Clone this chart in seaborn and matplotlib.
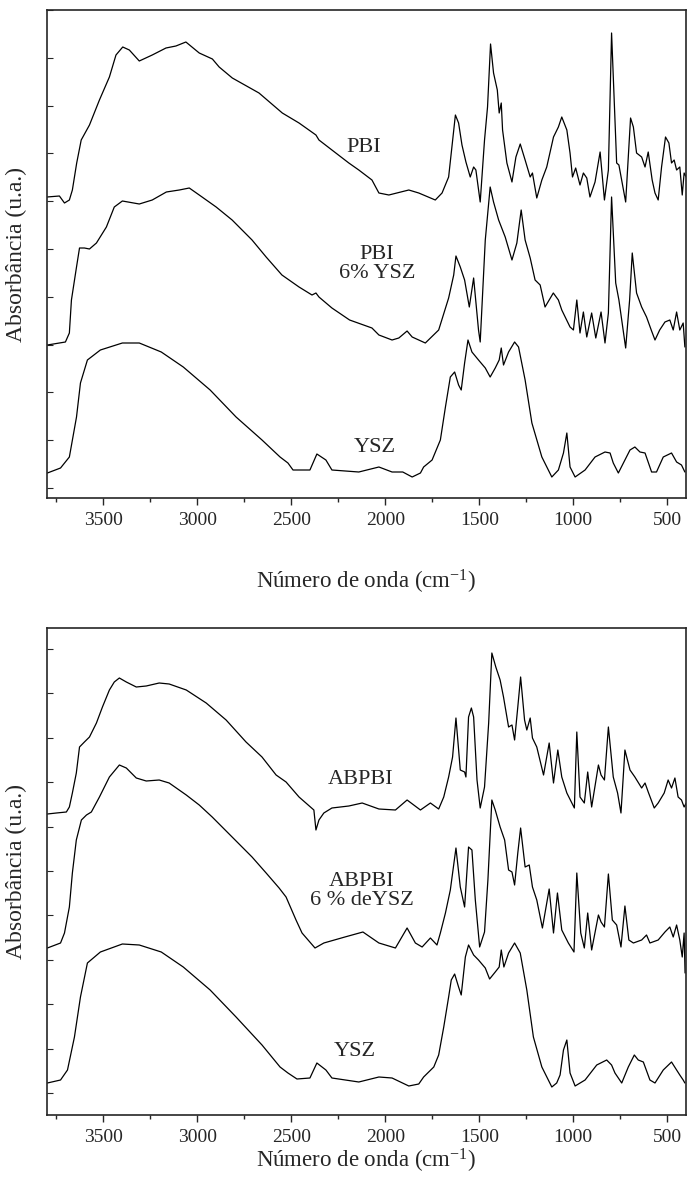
import numpy as np
import pandas as pd
import matplotlib
matplotlib.use("Agg")
import matplotlib.pyplot as plt
from matplotlib.ticker import MultipleLocator, FixedLocator
import seaborn as sns

# ---------------- data (wavenumber in cm-1, absorbance in arbitrary units) ----------------
pbi_wn = [3800,3734,3707,3681,3665,3642,3618,3574,3521,3468,3433,3397,3362,3309,3240,3167,3114,3061,2990,2920,
          2884,2814,2672,2548,2459,2369,2353,2284,2194,2141,2071,2034,1981,1875,1822,1734,1698,1663,1627,1610,
          1592,1571,1548,1530,1518,1495,1472,1456,1440,1424,1404,1394,1383,1376,1353,1326,1305,1282,1256,1229,
          1217,1194,1167,1141,1105,1079,1061,1034,1017,1004,987,964,946,928,911,884,857,834,813,796,
          769,757,721,695,680,663,636,618,601,580,565,548,530,509,491,477,463,450,433,420,410,399]
pbi_abs = [291,292,285,288,298,325,348,363,388,411,433,441,438,427,433,440,442,446,435,429,
           421,410,395,375,365,353,348,338,325,318,308,295,293,298,295,288,295,311,373,365,
           343,326,311,321,318,286,348,381,444,415,398,375,385,358,325,306,331,344,328,311,
           315,290,308,321,351,361,371,358,335,311,320,303,315,310,291,306,336,288,318,455,
           325,323,286,370,361,335,331,321,336,308,295,288,321,351,345,325,328,318,321,293,315,311]

pbi6_wn = [3798,3702,3681,3670,3643,3627,3601,3574,3537,3484,3442,3399,3309,3240,3165,3096,3043,2990,2900,2815,
           2709,2634,2550,2459,2390,2369,2353,2284,2190,2071,2034,1964,1928,1884,1857,1787,1716,1663,1636,1624,
           1601,1578,1553,1530,1504,1495,1468,1442,1424,1397,1362,1326,1300,1277,1256,1229,1203,1176,1150,1106,
           1079,1061,1017,999,981,964,946,928,902,880,852,831,813,796,774,757,721,700,686,663,
           636,610,585,565,540,512,486,468,450,433,415,406]
pbi6_abs = [143,146,155,188,221,240,240,239,245,261,281,287,284,288,296,298,300,293,281,268,
            248,231,213,201,193,195,191,180,168,160,153,148,150,157,151,145,158,190,213,232,
            221,208,181,210,158,146,248,301,286,268,251,228,245,278,248,230,208,203,181,195,
            188,178,161,158,188,155,176,151,175,150,176,145,175,291,205,188,140,188,235,195,
            181,171,158,148,158,166,168,158,176,158,165,141]

ysz1_wn = [3798,3728,3681,3643,3622,3585,3516,3399,3309,3192,3075,2932,2794,2656,2560,2518,2491,2401,2364,2316,
           2284,2141,2034,1964,1907,1857,1813,1796,1751,1707,1680,1654,1631,1610,1596,1578,1560,1539,1504,1468,
           1442,1415,1394,1383,1371,1344,1312,1291,1256,1220,1167,1114,1079,1052,1034,1017,990,937,884,831,
           804,787,760,725,698,672,645,618,583,557,521,477,450,424,406]
ysz1_abs = [15,20,31,71,105,128,138,145,145,136,121,98,71,48,31,25,18,18,34,28,
            18,16,21,16,16,11,15,21,28,48,81,111,116,103,98,125,148,136,128,120,
            111,120,128,140,123,136,146,141,108,65,31,11,18,35,55,21,11,18,31,36,
            35,25,15,28,38,41,36,35,16,16,31,35,26,23,16]

abpbi_wn = [3798,3750,3697,3681,3665,3644,3627,3601,3574,3537,3505,3468,3442,3415,3378,3325,3272,3203,3150,3059,
            2953,2847,2741,2656,2581,2528,2459,2380,2369,2353,2327,2284,2194,2123,2034,1946,1884,1813,1760,1716,
            1689,1663,1642,1624,1601,1578,1571,1557,1542,1530,1512,1495,1472,1450,1433,1412,1389,1371,1344,1326,
            1312,1295,1280,1259,1247,1229,1217,1194,1158,1128,1105,1082,1061,1034,994,981,964,941,923,902,
            866,852,834,813,787,764,746,725,698,672,636,618,601,569,548,516,495,477,459,442,424,410,399]
abpbi_abs = [279,280,281,286,300,320,346,351,356,370,386,403,411,415,411,406,407,410,409,403,
             390,373,351,336,318,311,296,283,263,273,280,285,287,290,284,283,293,283,290,284,
             296,316,336,375,323,321,316,376,385,376,313,285,306,370,440,426,413,396,366,368,
             353,386,416,373,363,375,355,346,318,350,310,343,316,300,285,361,296,290,321,286,
             328,318,313,366,316,300,280,343,323,316,305,310,301,285,290,300,313,305,315,296,293,286,290]

abpbi6_wn = [3798,3728,3707,3681,3665,3644,3617,3590,3564,3521,3468,3415,3378,3325,3272,3203,3150,3059,2990,2921,
             2815,2709,2634,2565,2528,2475,2443,2374,2327,2215,2119,2034,1946,1884,1840,1804,1760,1725,1707,1680,
             1654,1624,1601,1578,1557,1539,1521,1498,1472,1454,1433,1415,1389,1365,1344,1326,1312,1295,1280,1256,
             1234,1217,1194,1164,1128,1105,1084,1061,1026,996,981,960,941,923,902,866,852,834,813,792,
             769,746,725,704,680,636,610,592,548,512,486,468,450,433,420,410,405]
abpbi6_abs = [145,150,160,186,220,253,273,278,281,296,316,328,325,315,312,313,310,298,288,276,
              256,236,220,205,196,173,160,145,150,156,161,150,145,165,150,146,155,148,160,180,
              203,245,206,186,246,243,193,146,161,213,293,283,266,253,223,221,208,240,265,226,
              228,206,193,165,204,160,200,163,150,141,220,160,145,180,143,178,171,166,219,173,
              168,146,187,153,150,153,158,150,153,161,166,156,168,153,136,160,120]

ysz2_wn = [3798,3728,3691,3654,3622,3585,3516,3399,3309,3192,3075,2932,2794,2656,2560,2518,2470,2401,2364,2316,
           2284,2141,2034,1964,1875,1822,1796,1742,1716,1689,1663,1649,1631,1610,1596,1574,1557,1530,1504,1468,
           1445,1415,1394,1383,1369,1344,1312,1282,1247,1212,1167,1114,1088,1070,1052,1034,1017,990,937,875,
           822,796,778,742,707,675,654,627,592,565,521,477,450,433,415,406]
ysz2_abs = [10,13,23,56,96,130,141,149,148,141,126,103,76,48,26,20,14,15,30,23,
            15,11,16,15,7,9,16,26,38,66,96,113,119,106,98,136,148,138,133,125,
            114,121,126,143,126,140,150,140,103,56,26,6,10,18,43,53,20,7,13,28,
            33,28,20,10,26,38,33,31,13,10,23,31,23,18,13,10]

top_labels = ["PBI", "PBI\n6% YSZ", "YSZ"]
top_label_pos = [(2114, 340), (2045, 224), (2056, 40)]
bot_labels = ["ABPBI", "ABPBI\n6 % deYSZ", "YSZ"]
bot_label_pos = [(2130, 313), (2125, 202), (2162, 41)]

x_major = [3500, 3000, 2500, 2000, 1500, 1000, 500]

# ---------------- style ----------------
sns.set_style("ticks")
plt.rcParams['font.family'] = ['Liberation Serif', 'DejaVu Serif']
plt.rcParams['mathtext.fontset'] = 'custom'
plt.rcParams['mathtext.rm'] = 'Liberation Serif'
plt.rcParams['mathtext.default'] = 'regular'
FS_TICK = 14
FS_LAB = 16
FS_AX = 16.5
FS_Y = 17

fig = plt.figure(figsize=(6.88, 11.91), dpi=100)
W, H = 688.0, 1191.0
ax1 = fig.add_axes([47 / W, 1 - 498 / H, 639 / W, 488 / H])
ax2 = fig.add_axes([47 / W, 1 - 1115 / H, 639 / W, 487 / H])


def draw(ax, curves, labels, label_pos, ylim, ystep, labelpad):
    for wn, ab in curves:
        df = pd.DataFrame({"wn": wn, "abs": ab})
        sns.lineplot(data=df, x="wn", y="abs", ax=ax, color="black", linewidth=0.9,
                     estimator=None, sort=True, legend=False)
    for txt, (x, y) in zip(labels, label_pos):
        ax.text(x, y, txt, ha="center", va="center", fontsize=FS_LAB, linespacing=0.95)
    ax.set_xlim(3800, 400)
    ax.set_ylim(*ylim)
    ax.xaxis.set_major_locator(FixedLocator(x_major))
    ax.xaxis.set_minor_locator(MultipleLocator(250))
    ax.yaxis.set_major_locator(FixedLocator(np.arange(0, ylim[1] + 1, ystep)))
    ax.tick_params(axis="x", which="major", direction="out", length=5, width=1.0,
                   labelsize=FS_TICK, pad=5)
    ax.tick_params(axis="x", which="minor", direction="out", length=3, width=1.0)
    ax.tick_params(axis="y", which="major", direction="in", length=4, width=0.8,
                   labelleft=False)
    for s in ax.spines.values():
        s.set_linewidth(1.2)
        s.set_visible(True)
    ax.set_xlabel(r"Número de onda (cm$^{-1}$)", fontsize=FS_AX, labelpad=labelpad)
    ax.set_ylabel("Absorbância (u.a.)", fontsize=FS_Y)
    ax.yaxis.set_label_coords(-20 / 639, 0.5)


draw(ax1, [(pbi_wn, pbi_abs), (pbi6_wn, pbi6_abs), (ysz1_wn, ysz1_abs)],
     top_labels, top_label_pos, (-10, 478), 47.8, 28)
draw(ax2, [(abpbi_wn, abpbi_abs), (abpbi6_wn, abpbi6_abs), (ysz2_wn, ysz2_abs)],
     bot_labels, bot_label_pos, (-22, 465), 44.4, 1)

fig.savefig("out.png", dpi=100)
